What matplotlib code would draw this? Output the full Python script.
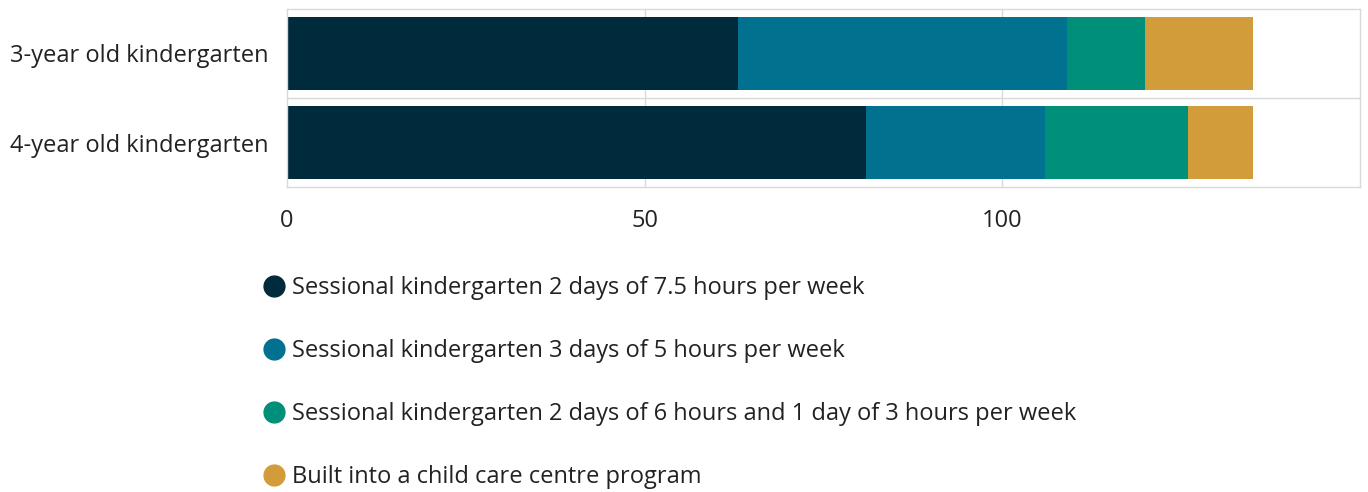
import matplotlib.pyplot as plt
from matplotlib.lines import Line2D

plt.rcParams["font.family"] = ["Open Sans", "DejaVu Sans"]

categories = ["3-year old kindergarten", "4-year old kindergarten"]
series_names = [
    "Sessional kindergarten 2 days of 7.5 hours per week",
    "Sessional kindergarten 3 days of 5 hours per week",
    "Sessional kindergarten 2 days of 6 hours and 1 day of 3 hours per week",
    "Built into a child care centre program",
]
values = [
    [63, 81],
    [46, 25],
    [11, 20],
    [15, 9],
]
colors = ["#002B3D", "#00718F", "#008F79", "#D39C3A"]
x_ticks = [0, 50, 100]

fig = plt.figure(figsize=(13.68, 4.92), dpi=100)
ax = fig.add_axes([287 / 1368, 1 - 187 / 492, (1360 - 287) / 1368, (187 - 9) / 492])

y = list(range(len(categories)))
left = [0] * len(categories)
for name, vals, c in zip(series_names, values, colors):
    ax.barh(y, vals, left=left, height=0.81, color=c, label=name, zorder=2)
    left = [l + v for l, v in zip(left, vals)]

ax.set_xlim(0, 150)
ax.set_ylim(1.5, -0.5)
ax.set_yticks(y)
ax.set_yticklabels(categories)
ax.set_xticks(x_ticks)
ax.tick_params(length=0, labelsize=17, colors="#222222")
ax.tick_params(axis="y", pad=13)
ax.tick_params(axis="x", pad=16)

grid_color = "#D9D9D9"
for xv in x_ticks[1:]:
    ax.axvline(xv, color=grid_color, linewidth=1, zorder=1)
ax.axhline(0.5, color=grid_color, linewidth=1, zorder=1)
for s in ax.spines.values():
    s.set_color(grid_color)
    s.set_linewidth(1)

handles = [Line2D([], [], linestyle="none", marker="o", markersize=15, color=c) for c in colors]
fig.legend(handles, series_names, loc="upper left", bbox_to_anchor=(265 / 1368, 1 - 276 / 492),
           frameon=False, fontsize=17, handlelength=0.8, handletextpad=0.35, labelspacing=1.65,
           borderaxespad=0, borderpad=0, labelcolor="#222222")

fig.savefig("out.png", dpi=100)
